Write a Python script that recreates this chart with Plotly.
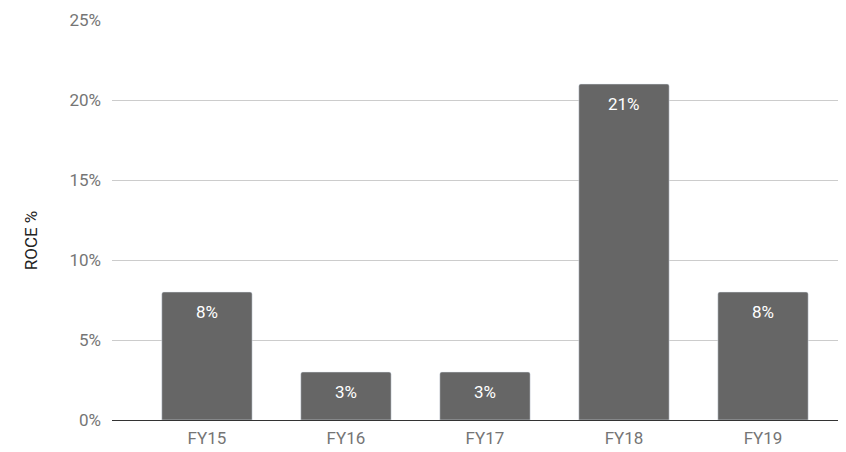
import plotly.graph_objects as go

years = ["FY15", "FY16", "FY17", "FY18", "FY19"]
roce = [8, 3, 3, 21, 8]
y_ticks = [0, 5, 10, 15, 20, 25]
y_tick_labels = ["0%", "5%", "10%", "15%", "20%", "25%"]

fig = go.Figure()
fig.add_trace(go.Bar(x=years, y=roce, marker=dict(color="#666666", cornerradius=2),
                     width=0.65, hoverinfo="skip"))

for yr, v in zip(years, roce):
    fig.add_annotation(x=yr, y=v, text=f"{v}%", showarrow=False, yanchor="top", yshift=-8,
                       font=dict(family="Roboto", size=17, color="#ffffff"))

fig.add_annotation(xref="paper", yref="paper", x=-0.11, y=0.45, xanchor="center", yanchor="middle",
                   text="ROCE %", textangle=-90, showarrow=False,
                   font=dict(family="Roboto", size=17, color="#222222"))

# page body has an 8px margin, so the figure is sized to end at the window edge
fig.update_layout(
    width=838, height=444,
    margin=dict(l=104, r=0, t=12, b=32),
    plot_bgcolor="white", paper_bgcolor="white",
    showlegend=False,
    font=dict(family="Roboto", size=17, color="#757575"),
    xaxis=dict(range=[-0.683, 4.597], showgrid=False, ticks="", showline=False,
               ticklabelstandoff=6, tickfont=dict(color="#757575")),
    yaxis=dict(range=[0, 25], tickvals=y_ticks, ticktext=y_tick_labels,
               gridcolor="#cccccc", gridwidth=1, zeroline=True, zerolinecolor="#333333",
               zerolinewidth=1, ticklabelstandoff=10, tickfont=dict(color="#757575")),
)
fig.write_html("out.html")
